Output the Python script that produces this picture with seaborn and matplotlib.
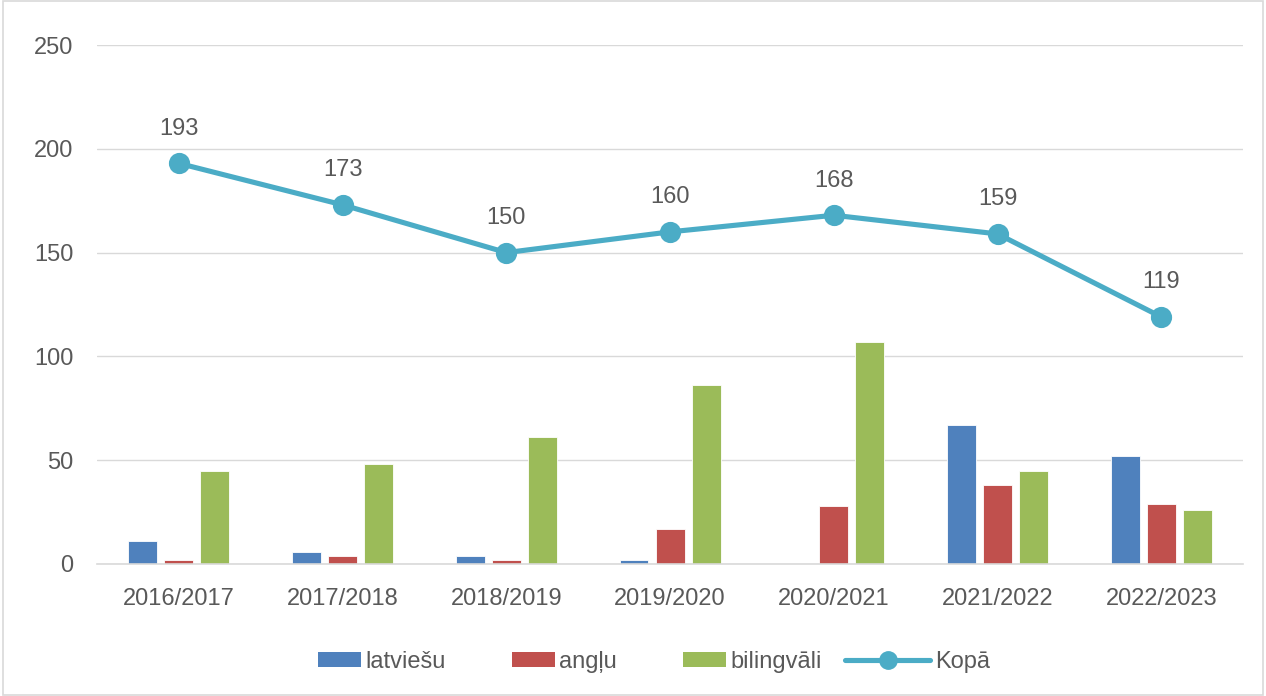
import matplotlib
matplotlib.use("Agg")
import matplotlib.pyplot as plt
from matplotlib.lines import Line2D
from matplotlib.patches import Patch, Rectangle
from matplotlib.legend_handler import HandlerPatch
import seaborn as sns
import pandas as pd

# data
years = ["2016/2017", "2017/2018", "2018/2019", "2019/2020", "2020/2021", "2021/2022", "2022/2023"]
latviesu = [11, 6, 4, 2, 0, 67, 52]
anglu = [2, 4, 2, 17, 28, 38, 29]
bilingvali = [45, 48, 61, 86, 107, 45, 26]
kopa = [193, 173, 150, 160, 168, 159, 119]

series_names = ["latviešu", "angļu", "bilingvāli"]
bar_colors = ["#4F81BD", "#C0504D", "#9BBB59"]
line_color = "#4BACC6"
text_color = "#595959"

df = pd.DataFrame({"year": years, "latviešu": latviesu, "angļu": anglu, "bilingvāli": bilingvali})
long_df = df.melt(id_vars="year", var_name="series", value_name="value")
tot_df = pd.DataFrame({"year": years, "total": kopa})

sns.set_theme(style="white")
plt.rcParams["font.family"] = ["Liberation Sans", "DejaVu Sans"]

fig = plt.figure(figsize=(12.66, 6.96), dpi=100)
ax = fig.add_axes([0.0766, 0.1897, 0.9054, 0.7456])

sns.barplot(data=long_df, x="year", y="value", hue="series", hue_order=series_names,
            palette=bar_colors, width=0.66, gap=0.2, saturation=1, legend=False, ax=ax,
            edgecolor="white", linewidth=0.6)

sns.pointplot(data=tot_df, x="year", y="total", color=line_color, markers="o",
              markersize=12.5, linewidth=3.7, ax=ax)

# value labels above the line points
for i, v in enumerate(kopa):
    ax.annotate(str(v), (i, v), xytext=(0, 17), textcoords="offset points",
                ha="center", va="bottom", fontsize=17, color=text_color)

ax.set_ylim(0, 250)
ax.set_xlim(-0.5, len(years) - 0.5)
ax.set_yticks(range(0, 251, 50))
ax.yaxis.grid(True, color="#D9D9D9", linewidth=1)
ax.set_axisbelow(True)
for s in ["top", "right", "left"]:
    ax.spines[s].set_visible(False)
ax.spines["bottom"].set_color("#D9D9D9")
ax.spines["bottom"].set_linewidth(1.2)
ax.tick_params(axis="both", length=0, labelsize=17, labelcolor=text_color)
ax.tick_params(axis="x", pad=17)
ax.tick_params(axis="y", pad=17)
ax.set_xlabel("")
ax.set_ylabel("")


def short_box(legend, orig_handle, xdescent, ydescent, width, height, fontsize):
    # excel draws the bar keys narrower than the line key
    w = width * 0.5
    return Rectangle((width - w - xdescent, -ydescent), w, height)


handles = [Patch(facecolor=c, edgecolor="none") for c in bar_colors]
handles.append(Line2D([0], [0], color=line_color, lw=3.7, marker="o", markersize=12.5))
leg = fig.legend(handles, series_names + ["Kopā"], loc="lower center", ncol=4,
                 bbox_to_anchor=(0.5, 0.003), frameon=False, fontsize=17,
                 handlelength=3.6, handleheight=0.6, columnspacing=1.0, handletextpad=0.2,
                 handler_map={Patch: HandlerPatch(patch_func=short_box)})
for t in leg.get_texts():
    t.set_color(text_color)

fig.patches.append(Rectangle((0.002, 0.002), 0.996, 0.996, transform=fig.transFigure,
                             fill=False, edgecolor="#D9D9D9", linewidth=1.2))

fig.savefig("out.png", dpi=100, facecolor="white")
